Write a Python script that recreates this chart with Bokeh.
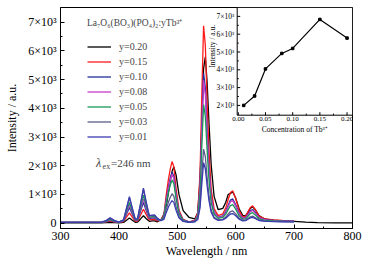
import math
from bokeh.plotting import figure
from bokeh.models import Range1d, FixedTicker, Legend, LegendItem, Label
from bokeh.embed import file_html
from bokeh.resources import INLINE
from bokeh.core.properties import value

# ---------------- data ----------------
wavelength = [300, 340, 370, 378, 385, 392, 400, 408, 413, 418, 423, 428, 432, 437, 442,
              447, 452, 457, 461, 466, 472, 477, 481, 485, 488, 491, 494, 498, 503, 510,
              520, 530, 535, 539, 542, 545, 548, 551, 554, 558, 563, 570, 578, 583, 587,
              591, 595, 600, 606, 612, 617, 621, 625, 629, 634, 640, 648, 655, 665, 680,
              700, 720, 740, 770, 800]

y_020 = [10, 10, 11, 18, 30, 19, 12, 27, 104, 180, 104, 32, 38, 148, 260, 155, 65, 78, 80, 49,
         119, 307, 595, 1083, 1473, 1804, 1960, 1668, 985, 439, 205, 147, 358, 1535, 3538,
         5385, 5790, 4923, 3594, 2033, 935, 469, 515, 727, 993, 1036, 1090, 874, 492, 271,
         264, 378, 514, 570, 458, 262, 161, 128, 105, 83, 66, 38, 21, 13, 10]
y_015 = [25, 25, 27, 45, 75, 48, 29, 59, 207, 355, 207, 67, 78, 278, 485, 288, 115, 124, 125, 80,
         104, 284, 979, 1551, 1891, 2145, 1975, 1191, 449, 131, 46, 94, 368, 1738, 4478,
         6875, 6190, 4272, 2628, 1190, 505, 264, 327, 534, 817, 1070, 1125, 850, 427, 215,
         242, 395, 547, 605, 460, 245, 170, 141, 118, 100, 83]
y_010 = [25, 25, 29, 55, 100, 59, 31, 79, 311, 545, 311, 91, 105, 410, 725, 425, 162, 174, 175, 108,
         101, 243, 813, 1285, 1565, 1775, 1635, 988, 375, 113, 43, 77, 285, 1325, 3405,
         5225, 4705, 3249, 2001, 909, 389, 206, 252, 405, 615, 804, 845, 640, 326, 168,
         192, 311, 430, 475, 363, 196, 138, 115, 97, 84, 70]
y_008 = [25, 25, 30, 61, 115, 66, 32, 89, 366, 645, 366, 103, 119, 476, 845, 493, 183, 195, 195, 119,
         101, 236, 781, 1235, 1503, 1705, 1571, 949, 361, 109, 42, 75, 273, 1263, 3243,
         4975, 4480, 3094, 1906, 867, 372, 197, 238, 379, 572, 747, 785, 595, 304, 158,
         181, 292, 403, 445, 340, 185, 130, 109, 92, 80, 67]
y_005 = [25, 25, 31, 69, 135, 75, 34, 97, 410, 725, 410, 114, 134, 548, 975, 568, 209, 224, 225, 135,
         99, 213, 691, 1091, 1327, 1505, 1387, 839, 321, 99, 40, 66, 230, 1050, 2690,
         4125, 3715, 2567, 1583, 722, 312, 167, 200, 314, 471, 614, 645, 490, 252, 133,
         151, 241, 331, 365, 280, 154, 110, 93, 79, 69, 59]
y_003 = [25, 25, 33, 85, 175, 93, 37, 114, 498, 885, 498, 134, 157, 658, 1175, 682, 247, 264, 265, 157,
         91, 157, 475, 745, 905, 1025, 945, 575, 225, 75, 35, 51, 153, 663, 1683,
         2575, 2320, 1606, 994, 459, 204, 114, 136, 211, 313, 405, 425, 325, 172, 95,
         107, 165, 223, 245, 190, 109, 80, 69, 60, 54, 47]
y_001 = [25, 25, 33, 89, 185, 97, 38, 118, 520, 925, 520, 139, 163, 685, 1225, 711, 260, 282, 285, 168,
         87, 129, 367, 572, 694, 785, 724, 443, 177, 63, 33, 46, 129, 545, 1377,
         2105, 1897, 1315, 815, 379, 171, 96, 114, 170, 248, 320, 335, 258, 139, 80,
         91, 139, 187, 205, 160, 93, 70, 61, 54, 48, 43]

series_labels = ["y=0.20", "y=0.15", "y=0.10", "y=0.08", "y=0.05", "y=0.03", "y=0.01"]
series_values = [y_020, y_015, y_010, y_008, y_005, y_003, y_001]
series_colors = ["#000000", "#ff1a1a", "#1f2f9a", "#c93bc9", "#17995a", "#5c5c8c", "#3b3bb0"]

x_ticks = [300, 400, 500, 600, 700, 800]
x_minor = [350, 450, 550, 650, 750]
y_ticks = [0, 1000, 2000, 3000, 4000, 5000, 6000, 7000]
y_tick_labels = ["0", "1×10³", "2×10³", "3×10³", "4×10³", "5×10³", "6×10³", "7×10³"]
y_minor = [500, 1500, 2500, 3500, 4500, 5500, 6500]

# inset data
concentration = [0.01, 0.03, 0.05, 0.08, 0.10, 0.15, 0.20]
peak_intensity = [2000, 2530, 4050, 4920, 5200, 6830, 5780]
inset_x_ticks = [0.00, 0.05, 0.10, 0.15, 0.20]
inset_x_labels = ["0.00", "0.05", "0.10", "0.15", "0.20"]
inset_x_minor = [0.025, 0.075, 0.125, 0.175]
inset_y_ticks = [2000, 3000, 4000, 5000, 6000, 7000]
inset_y_labels = ["2×10³", "3×10³", "4×10³", "5×10³", "6×10³", "7×10³"]
inset_y_minor = [2500, 3500, 4500, 5500, 6500]
inset_xlim = (-0.002, 0.21)
inset_ylim = (1450, 7500)

# ---------------- layout ----------------
W, H = 372, 262
FL, FR, FT, FB = 60, 352, 7, 228
INSET_L, INSET_B = 236.7, 114.7
FONT = "Liberation Serif"

p = figure(width=W, height=H, output_backend="svg", toolbar_location=None,
           x_range=Range1d(300, 800), y_range=Range1d(-185, 7510),
           min_border_left=FL, min_border_right=W - FR, min_border_top=FT,
           min_border_bottom=H - FB)
p.grid.visible = False
p.outline_line_color = "black"
p.outline_line_width = 1
p.background_fill_color = "white"
p.border_fill_color = "white"

for ax in (p.xaxis[0], p.yaxis[0]):
    ax.major_tick_in = 4
    ax.major_tick_out = 0
    ax.minor_tick_in = 2
    ax.minor_tick_out = 0
    ax.axis_line_color = "black"
    ax.major_tick_line_color = "black"
    ax.minor_tick_line_color = "black"
    ax.major_label_text_font = FONT
    ax.major_label_text_font_size = "12px"
    ax.major_label_text_color = "black"
    ax.axis_label_text_font = FONT
    ax.axis_label_text_font_size = "12px"
    ax.axis_label_text_font_style = "normal"
    ax.axis_label_text_color = "black"

p.xaxis.ticker = FixedTicker(ticks=x_ticks, minor_ticks=x_minor)
p.yaxis.ticker = FixedTicker(ticks=y_ticks, minor_ticks=y_minor)
p.yaxis.major_label_overrides = dict(zip(y_ticks, y_tick_labels))
p.xaxis.axis_label = "Wavelength / nm"
p.yaxis.axis_label = "Intensity / a.u."
p.xaxis.major_label_standoff = 3
p.yaxis.major_label_standoff = 4
p.xaxis.axis_label_standoff = 1
p.yaxis.axis_label_standoff = 6

renderers = []
for lab, vals, col in zip(series_labels, series_values, series_colors):
    r = p.line(wavelength[:len(vals)], vals, line_color=col, line_width=1.3)
    renderers.append(r)

legend = Legend(items=[LegendItem(label=l, renderers=[r]) for l, r in zip(series_labels, renderers)],
                location=(27, 84), title="La₇O₆(BO₃)(PO₄)₂:yTb³⁺")
legend.title_text_font = FONT
legend.title_text_font_size = "9.5px"
legend.title_text_font_style = "normal"
legend.title_standoff = 10
legend.label_text_font = FONT
legend.label_text_font_size = "10px"
legend.glyph_width = 24
legend.glyph_height = 15
legend.label_height = 15
legend.label_standoff = 8
legend.spacing = 0
legend.padding = 0
legend.margin = 0
legend.border_line_alpha = 0
legend.background_fill_alpha = 0
p.add_layout(legend)

# excitation label
lx, ly = 361, 2080
p.add_layout(Label(x=lx, y=ly, text="λ", text_font=FONT, text_font_size="12px",
                   text_font_style="italic", text_baseline="middle"))
p.add_layout(Label(x=lx, y=ly, x_offset=6.5, y_offset=-3.5, text="ex", text_font=FONT,
                   text_font_size="8px", text_baseline="middle"))
p.add_layout(Label(x=lx, y=ly, x_offset=15, text="=246 nm", text_font=FONT,
                   text_font_size="11px", text_baseline="middle"))

# ---------------- inset (drawn on extra ranges) ----------------
sx = (FR - INSET_L) / (inset_xlim[1] - inset_xlim[0])
sy = (INSET_B - FT) / (inset_ylim[1] - inset_ylim[0])
p.extra_x_ranges = {"ix": Range1d(inset_xlim[0] - (INSET_L - FL) / sx, inset_xlim[1])}
p.extra_y_ranges = {"iy": Range1d(inset_ylim[0] - (FB - INSET_B) / sy, inset_ylim[1])}
kw = dict(x_range_name="ix", y_range_name="iy")

p.quad(left=[inset_xlim[0]], right=[inset_xlim[1]], bottom=[inset_ylim[0]], top=[inset_ylim[1]],
       fill_color="white", line_color="black", line_width=1, **kw)

tx_major, tx_minor = 3 / sy, 1.6 / sy
ty_major, ty_minor = 3 / sx, 1.6 / sx
b, l = inset_ylim[0], inset_xlim[0]
p.segment(x0=inset_x_ticks, y0=[b] * len(inset_x_ticks), x1=inset_x_ticks,
          y1=[b + tx_major] * len(inset_x_ticks), line_color="black", line_width=1, **kw)
p.segment(x0=inset_x_minor, y0=[b] * len(inset_x_minor), x1=inset_x_minor,
          y1=[b + tx_minor] * len(inset_x_minor), line_color="black", line_width=1, **kw)
p.segment(x0=[l] * len(inset_y_ticks), y0=inset_y_ticks, x1=[l + ty_major] * len(inset_y_ticks),
          y1=inset_y_ticks, line_color="black", line_width=1, **kw)
p.segment(x0=[l] * len(inset_y_minor), y0=inset_y_minor, x1=[l + ty_minor] * len(inset_y_minor),
          y1=inset_y_minor, line_color="black", line_width=1, **kw)

p.line(concentration, peak_intensity, line_color="black", line_width=1.2, **kw)
p.scatter(concentration, peak_intensity, marker="square", size=2.5, fill_color="black",
          line_color="black", **kw)

p.text(x=inset_x_ticks, y=[b] * len(inset_x_ticks), text=inset_x_labels,
       text_font=value(FONT), text_font_size=value("7px"), text_align="center",
       text_baseline="top", y_offset=2, text_color="black", **kw)
p.text(x=[l] * len(inset_y_ticks), y=inset_y_ticks, text=inset_y_labels,
       text_font=value(FONT), text_font_size=value("7.5px"), text_align="right",
       text_baseline="middle", x_offset=-3, text_color="black", **kw)
p.text(x=[(inset_xlim[0] + inset_xlim[1]) / 2], y=[b], text=["Concentration of Tb³⁺"],
       text_font=value(FONT), text_font_size=value("7.5px"), text_align="center",
       text_baseline="top", y_offset=10, text_color="black", **kw)
ylab_y = inset_ylim[0] + 0.64 * (inset_ylim[1] - inset_ylim[0])
p.text(x=[l], y=[ylab_y], text=["Intensity / a.u."],
       text_font=value(FONT), text_font_size=value("7.5px"), text_align="center",
       text_baseline="middle", x_offset=-25, angle=math.pi / 2, text_color="black", **kw)

open("out.html", "w").write(file_html(p, INLINE))
